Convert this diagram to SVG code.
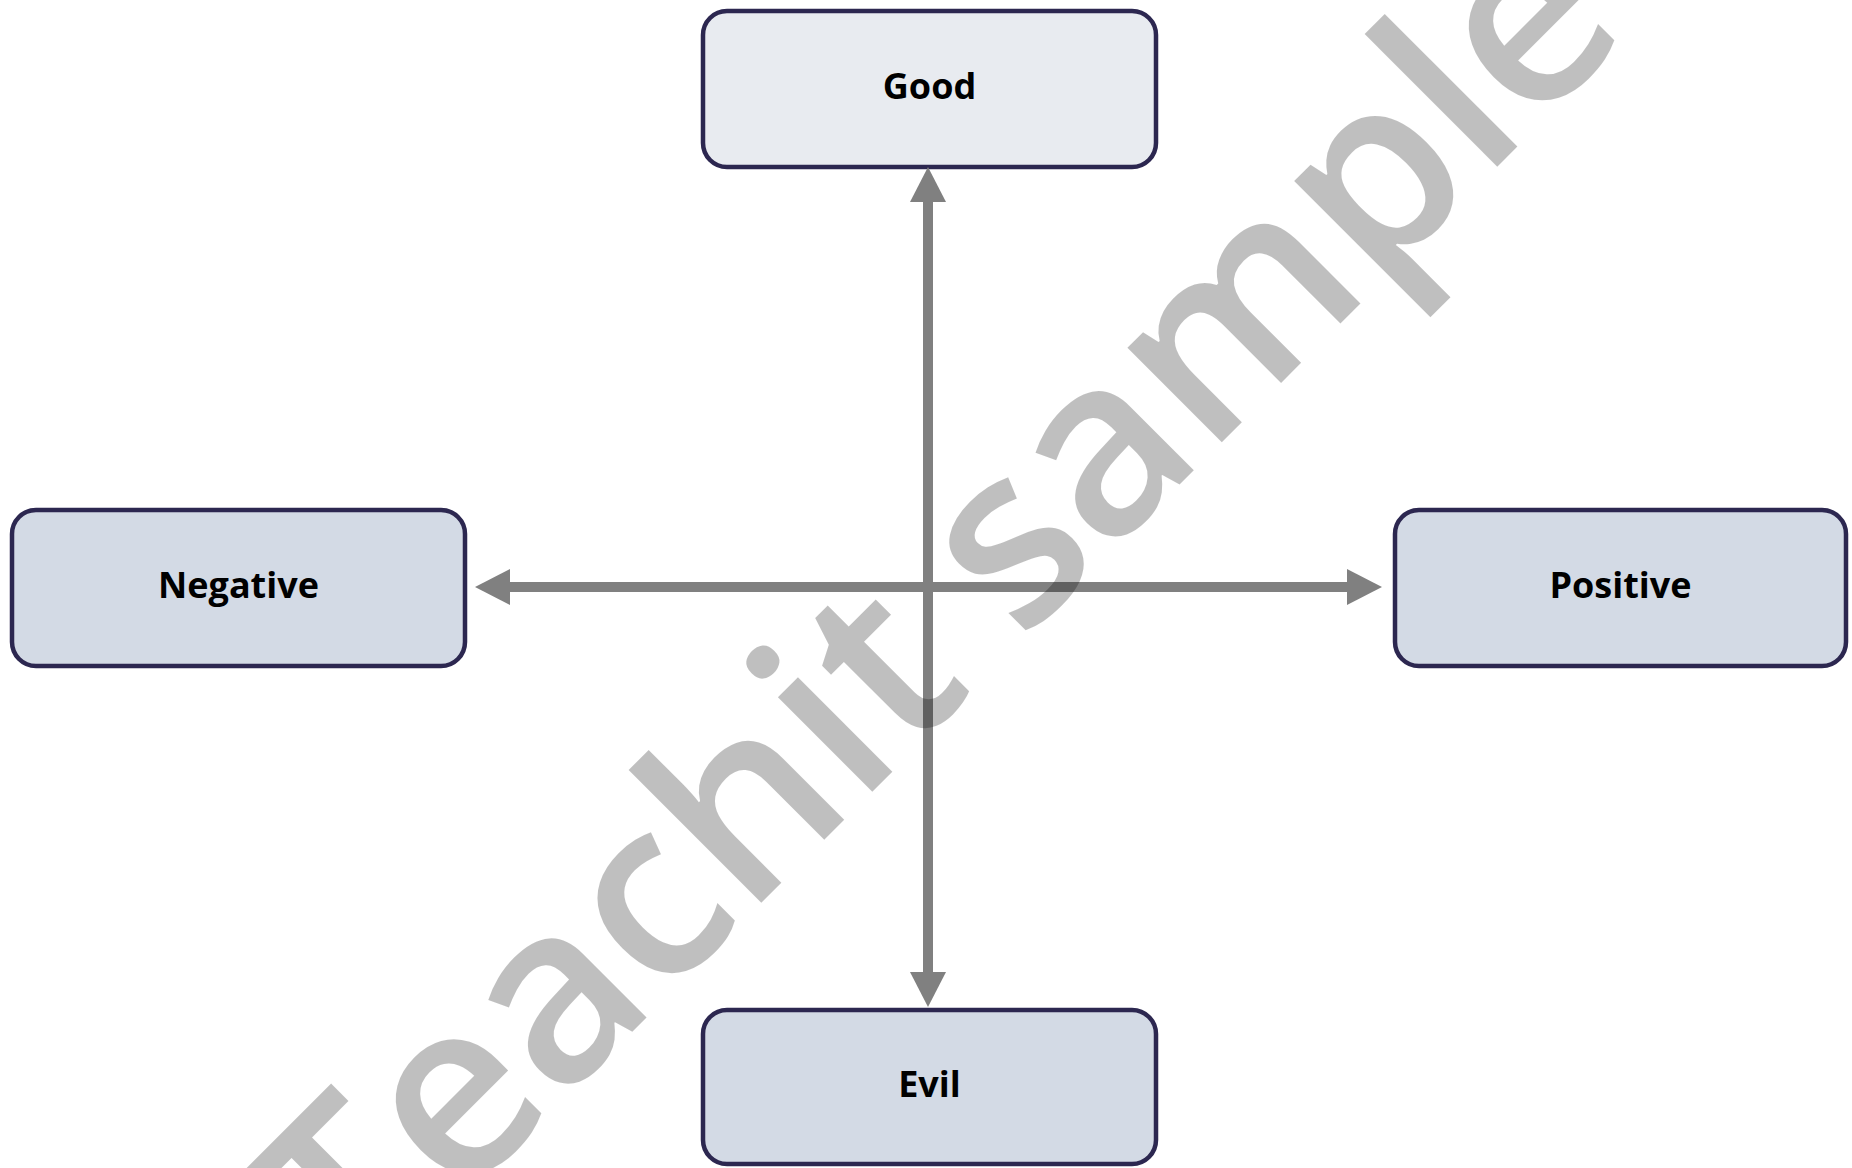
<svg xmlns="http://www.w3.org/2000/svg" width="1852" height="1168" viewBox="0 0 1852 1168">
<style>
.box{stroke:#2c2750;stroke-width:4.5}
.lbl{font-family:"Open Sans","Noto Sans","DejaVu Sans",sans-serif;font-weight:700;font-size:36px;fill:#000;text-anchor:middle}
.conn{stroke:#808080;stroke-width:10;fill:none}
.wm{font-family:"Open Sans","Noto Sans","DejaVu Sans",sans-serif;font-weight:600;font-size:247px;fill:#000;fill-opacity:0.25;text-anchor:middle}
</style>
<defs>
<marker id="ah" markerUnits="userSpaceOnUse" markerWidth="35" markerHeight="36" viewBox="0 0 35 36" refX="0" refY="18" orient="auto-start-reverse">
<path d="M0,0 L35,18 L0,36 Z" fill="#808080"/>
</marker>
</defs>
<rect width="1852" height="1168" fill="#fff"/>
<g id="node-good">
<rect class="box" x="703" y="11" width="453" height="156" rx="24" fill="#e8ebf0"/>
<text class="lbl" x="929.5" y="99">Good</text>
</g>
<g id="node-negative">
<rect class="box" x="12" y="510" width="453" height="156" rx="24" fill="#d3dae5"/>
<text class="lbl" x="238.5" y="598">Negative</text>
</g>
<g id="node-positive">
<rect class="box" x="1395" y="510" width="451" height="156" rx="24" fill="#d3dae5"/>
<text class="lbl" x="1620.5" y="598">Positive</text>
</g>
<g id="node-evil">
<rect class="box" x="703" y="1010" width="453" height="154" rx="24" fill="#d3dae5"/>
<text class="lbl" x="929.5" y="1097">Evil</text>
</g>
<g id="connectors">
<line class="conn" x1="928" y1="202" x2="928" y2="972" marker-start="url(#ah)" marker-end="url(#ah)"/>
<line class="conn" x1="510" y1="587" x2="1347" y2="587" marker-start="url(#ah)" marker-end="url(#ah)"/>
</g>
<text class="wm" x="996" y="668" transform="rotate(-45 996 668)">Teachit sample</text>
</svg>
